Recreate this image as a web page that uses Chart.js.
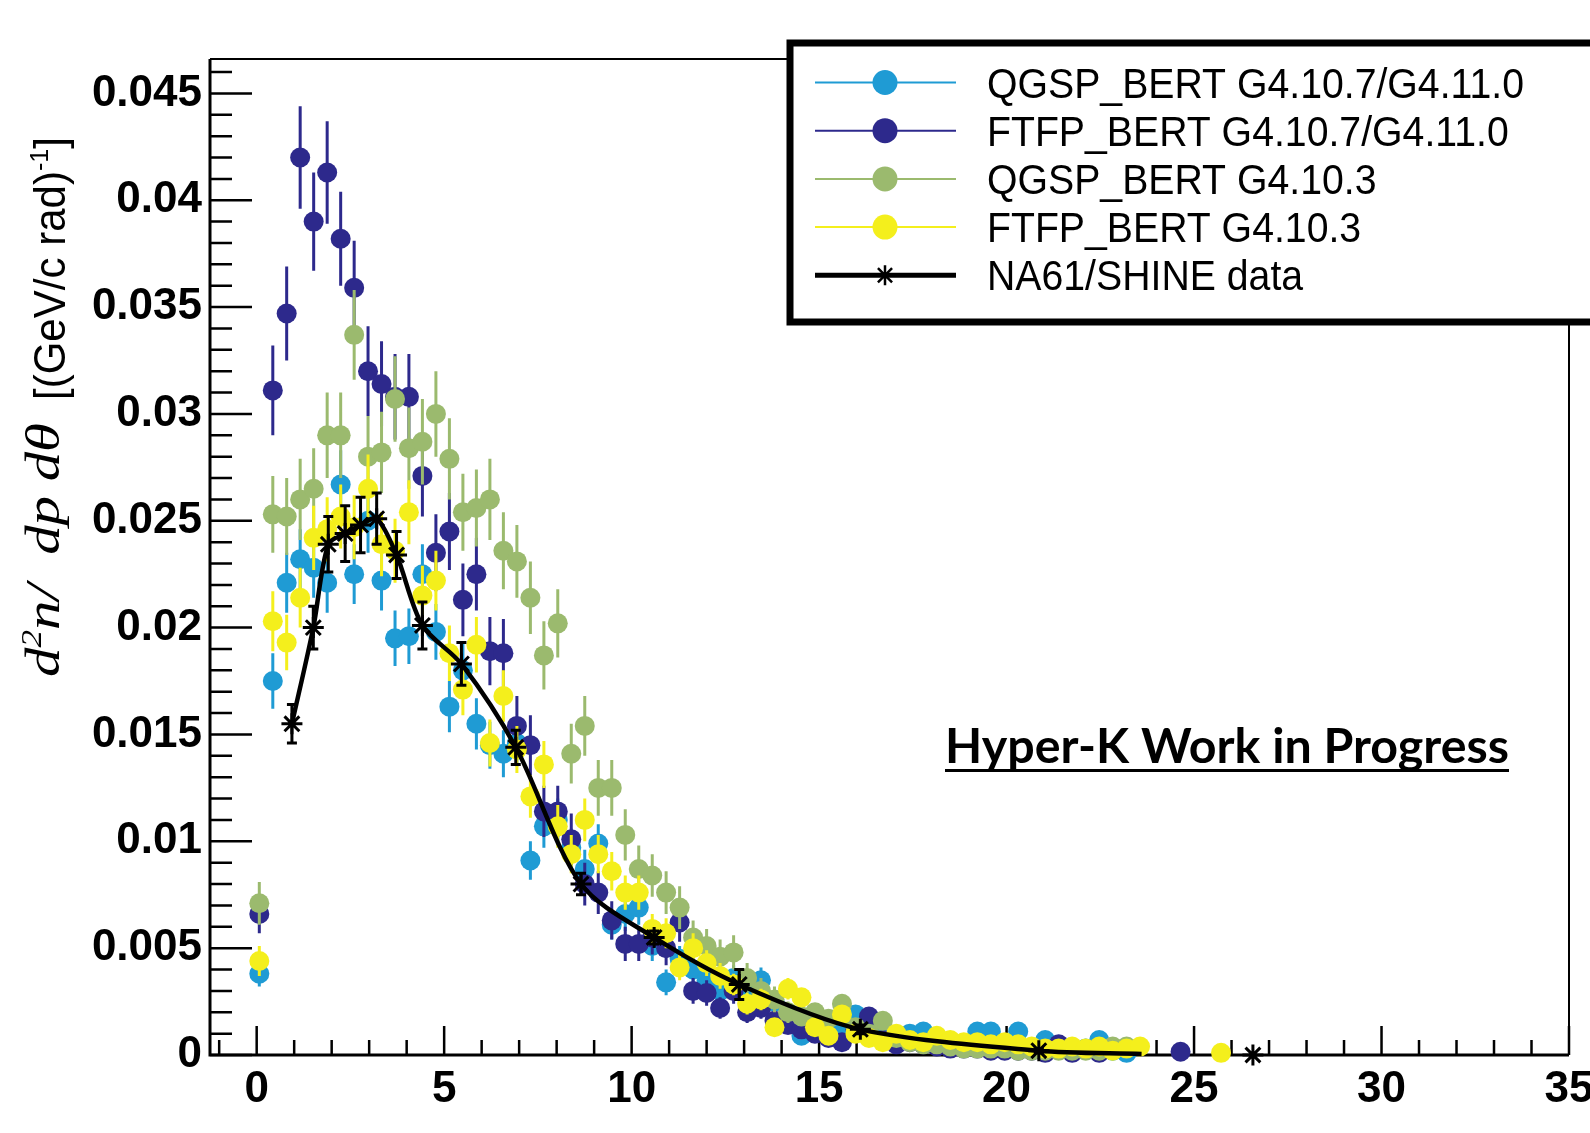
<!DOCTYPE html>
<html>
<head>
<meta charset="utf-8">
<script src="https://cdn.jsdelivr.net/npm/chart.js@4.4.1/dist/chart.umd.min.js"></script>
<style>
  html, body { margin: 0; padding: 0; background: #fff; }
  #wrap { width: 1590px; height: 1133px; }
</style>
</head>
<body>
<div id="wrap"><canvas id="chart" width="1590" height="1133"></canvas></div>
<script>
// bin centres of the MC histograms (GeV/c)
const binX = [
  0.07, 0.43, 0.80, 1.16, 1.52, 1.88, 2.24, 2.60, 2.97, 3.33,
  3.69, 4.06, 4.42, 4.78, 5.14, 5.50, 5.86, 6.22, 6.58, 6.94,
  7.30, 7.66, 8.03, 8.39, 8.75, 9.11, 9.47, 9.83, 10.19, 10.55,
  10.92, 11.28, 11.64, 12.00, 12.36, 12.72, 13.08, 13.45, 13.81, 14.17,
  14.53, 14.89, 15.25, 15.61, 15.97, 16.33, 16.70, 17.06, 17.42, 17.78,
  18.14, 18.50, 18.86, 19.22, 19.58, 19.95, 20.31, 20.67, 21.03, 21.39,
  21.75, 22.11, 22.47, 22.83, 23.20, 23.56, 23.92, 24.28, 24.64, 25.00,
  25.36, 25.72
];

const qgspNewY = [
  0.0038, 0.0175, 0.0221, 0.0232, 0.0228, 0.0221, 0.0267, 0.0225, 0.0250, 0.0222,
  0.0195, 0.0196, 0.0225, 0.0198, 0.0163, 0.0180, 0.0155, 0.0145, 0.0141, 0.0146,
  0.0091, 0.0107, 0.0110, 0.0097, 0.0087, 0.0099, 0.0061, 0.0066, 0.0069, 0.0051,
  0.0034, 0.0045, 0.0040, 0.0035, 0.0030, 0.0036, 0.0030, 0.0035, 0.0025, 0.0018,
  0.0009, 0.0016, 0.0013, 0.0012, 0.0019, 0.0012, 0.0008, 0.0007, 0.0010, 0.0011,
  0.0007, 0.0006, 0.0004, 0.0011, 0.0011, 0.0004, 0.0011, 0.0003, 0.0007, 0.0003,
  0.0002, 0.0003, 0.0007, 0.0002, 0.0001, null, null, null, null, null,
  null, null
];
const ftfpNewY = [
  0.0066, 0.0311, 0.0347, 0.0420, 0.0390, 0.0413, 0.0382, 0.0359, 0.0320, 0.0314,
  0.0308, 0.0308, 0.0271, 0.0235, 0.0245, 0.0213, 0.0225, 0.0189, 0.0188, 0.0154,
  0.0145, 0.0114, 0.0114, 0.0101, 0.0080, 0.0076, 0.0063, 0.0052, 0.0052, 0.0055,
  0.0050, 0.0062, 0.0030, 0.0029, 0.0022, 0.0030, 0.0020, 0.0022, 0.0016, 0.0014,
  0.0012, 0.0010, 0.0008, 0.0006, 0.0012, 0.0018, 0.0007, 0.0005, 0.0006, 0.0005,
  0.0004, 0.0003, 0.0003, 0.0003, 0.0002, 0.0002, 0.0002, 0.0002, 0.0001, 0.0005,
  0.0001, null, 0.0001, null, null, null, null, null, 0.00015, null,
  null, null
];
const qgspOldY = [
  0.0071, 0.0253, 0.0252, 0.0260, 0.0265, 0.0290, 0.0290, 0.0337, 0.0280, 0.0282,
  0.0307, 0.0284, 0.0287, 0.0300, 0.0279, 0.0254, 0.0256, 0.0260, 0.0236, 0.0231,
  0.0214, 0.0187, 0.0202, 0.0141, 0.0154, 0.0125, 0.0125, 0.0103, 0.0087, 0.0084,
  0.0076, 0.0069, 0.0055, 0.0051, 0.0046, 0.0048, 0.0036, 0.0030, 0.0026, 0.0020,
  0.0018, 0.0020, 0.0017, 0.0024, 0.0013, 0.0010, 0.0016, 0.0008, 0.0006, 0.0005,
  0.0005, 0.0004, 0.0003, 0.0003, 0.0003, 0.0003, 0.0002, 0.0002, 0.0002, 0.0002,
  0.0002, 0.0002, 0.0002, 0.0004, 0.0004, null, null, null, null, null,
  null, null
];
const ftfpOldY = [
  0.0044, 0.0203, 0.0193, 0.0214, 0.0242, 0.0246, 0.0252, 0.0247, 0.0265, 0.0239,
  0.0236, 0.0254, 0.0215, 0.0222, 0.0188, 0.0171, 0.0192, 0.0146, 0.0168, 0.0143,
  0.0121, 0.0136, 0.0107, 0.0094, 0.0110, 0.0094, 0.0086, 0.0076, 0.0076, 0.0059,
  0.0057, 0.0041, 0.0050, 0.0043, 0.0037, 0.0033, 0.0024, 0.0026, 0.0013, 0.0031,
  0.0027, 0.0013, 0.0009, 0.0019, 0.0010, 0.0008, 0.0006, 0.0010, 0.0007, 0.0006,
  0.0009, 0.0007, 0.0006, 0.0006, 0.0005, 0.0006, 0.0005, 0.0004, 0.0003, 0.0003,
  0.0004, 0.0003, 0.0004, 0.0002, 0.0003, 0.0004, null, null, null, null,
  null, 0.0001
];

// half-length of the error bars (only the first bins show them)
const qgspNewErr = [
  0.0006, 0.0013, 0.0014, 0.0014, 0.0014, 0.0014, 0.0016, 0.0014, 0.0015, 0.0014,
  0.0013, 0.0013, 0.0014, 0.0013, 0.0012, 0.0013, 0.0012, 0.0011, 0.0011, 0.0011,
  0.0009, 0.0010, 0.0010, 0.0009, 0.0009, 0.0009, 0.0007, 0.0008, 0.0008, 0.0007,
  0.0006, 0.0006, 0.0006, 0.0006, 0.0005, 0.0006, 0.0005, 0.0006, 0.0005, 0.0004
];
const ftfpNewErr = [
  0.0009, 0.0021, 0.0022, 0.0024, 0.0023, 0.0024, 0.0022, 0.0022, 0.0021, 0.0020,
  0.0020, 0.0020, 0.0019, 0.0018, 0.0018, 0.0017, 0.0017, 0.0016, 0.0016, 0.0014,
  0.0014, 0.0012, 0.0012, 0.0012, 0.0010, 0.0010, 0.0009, 0.0008, 0.0008, 0.0008,
  0.0008, 0.0009, 0.0006, 0.0006, 0.0005, 0.0006, 0.0005, 0.0005, 0.0004, 0.0004
];
const qgspOldErr = [
  0.0010, 0.0018, 0.0018, 0.0019, 0.0019, 0.0020, 0.0020, 0.0021, 0.0019, 0.0019,
  0.0020, 0.0019, 0.0020, 0.0020, 0.0019, 0.0018, 0.0018, 0.0019, 0.0018, 0.0017,
  0.0017, 0.0016, 0.0016, 0.0014, 0.0014, 0.0013, 0.0013, 0.0012, 0.0011, 0.0010,
  0.0010, 0.0010, 0.0008, 0.0008, 0.0008, 0.0008, 0.0007, 0.0006, 0.0006, 0.0005
];
const ftfpOldErr = [
  0.0007, 0.0014, 0.0013, 0.0014, 0.0015, 0.0015, 0.0015, 0.0015, 0.0016, 0.0015,
  0.0015, 0.0015, 0.0014, 0.0014, 0.0013, 0.0012, 0.0013, 0.0011, 0.0012, 0.0011,
  0.0010, 0.0011, 0.0010, 0.0009, 0.0010, 0.0009, 0.0009, 0.0008, 0.0008, 0.0007,
  0.0007, 0.0006, 0.0007, 0.0006, 0.0006, 0.0005, 0.0005, 0.0005, 0.0003, 0.0005
];

// NA61/SHINE measurement
const na61X = [0.94, 1.51, 1.91, 2.36, 2.77, 3.20, 3.73, 4.42, 5.46, 6.91, 8.65, 10.60, 12.87, 16.10, 20.86, 26.57];
const na61Y = [0.0155, 0.0200, 0.0239, 0.0244, 0.0248, 0.0251, 0.0234, 0.0201, 0.0183, 0.0144, 0.0080, 0.0055, 0.0033, 0.0012, 0.0002, 0.0000];
const na61Err = [0.0009, 0.0010, 0.0013, 0.0013, 0.0013, 0.0012, 0.0011, 0.0011, 0.0010, 0.0008, 0.0005, 0.0003, 0.0007, 0.0002, 0.0001, 0];
// the smooth curve stops short of the last point
const curveTailX = [23.6];
const curveTailY = [0.00005];

const xTickValues = [0, 5, 10, 15, 20, 25, 30, 35];
const xTickLabels = ['0', '5', '10', '15', '20', '25', '30', '35'];
const yTickValues = [0, 0.005, 0.01, 0.015, 0.02, 0.025, 0.03, 0.035, 0.04, 0.045];
const yTickLabels = ['0', '0.005', '0.01', '0.015', '0.02', '0.025', '0.03', '0.035', '0.04', '0.045'];

const series = [
  { label: 'QGSP_BERT G4.10.7/G4.11.0', color: '#1f9bd4', ys: qgspNewY, errs: qgspNewErr, order: 5 },
  { label: 'FTFP_BERT G4.10.7/G4.11.0', color: '#2d298c', ys: ftfpNewY, errs: ftfpNewErr, order: 4 },
  { label: 'QGSP_BERT G4.10.3', color: '#9bba6e', ys: qgspOldY, errs: qgspOldErr, order: 3 },
  { label: 'FTFP_BERT G4.10.3', color: '#f4ef1c', ys: ftfpOldY, errs: ftfpOldErr, order: 2 }
];
const dataLabel = 'NA61/SHINE data';

const points = (xs, ys, errs) => {
  const out = [];
  xs.forEach((x, i) => { if (ys[i] != null) out.push({ x, y: ys[i], e: (errs && errs[i]) || 0 }); });
  return out;
};

const SANS = '"Liberation Sans", Arial, sans-serif';

const rootFrame = {
  id: 'rootFrame',
  beforeDatasetsDraw(chart) {
    const { ctx, chartArea: a, scales: { x, y } } = chart;
    ctx.save();
    ctx.strokeStyle = '#000';
    ctx.lineCap = 'butt';
    // thin top / right frame
    ctx.lineWidth = 2;
    ctx.beginPath();
    ctx.moveTo(a.left, a.top); ctx.lineTo(a.right, a.top); ctx.lineTo(a.right, a.bottom);
    ctx.stroke();
    // ticks pointing inward
    ctx.lineWidth = 2.5;
    ctx.beginPath();
    yTickValues.forEach((v) => { const py = y.getPixelForValue(v); ctx.moveTo(a.left, py); ctx.lineTo(a.left + 42, py); });
    for (let k = 1; k <= 46; k++) {
      if (k % 5 === 0) continue;
      const py = y.getPixelForValue(k / 1000);
      ctx.moveTo(a.left, py); ctx.lineTo(a.left + 22, py);
    }
    xTickValues.forEach((v) => { const px = x.getPixelForValue(v); ctx.moveTo(px, a.bottom); ctx.lineTo(px, a.bottom - 29); });
    for (let k = -1; k < 35; k++) {
      if (k % 5 === 0) continue;
      const px = x.getPixelForValue(k);
      ctx.moveTo(px, a.bottom); ctx.lineTo(px, a.bottom - 15);
    }
    ctx.stroke();
    // heavier left / bottom axis
    ctx.lineWidth = 3;
    ctx.beginPath();
    ctx.moveTo(a.left, a.top); ctx.lineTo(a.left, a.bottom); ctx.lineTo(a.right, a.bottom);
    ctx.stroke();
    ctx.restore();
  },
  beforeDatasetDraw(chart, args) {
    const ds = chart.data.datasets[args.index];
    if (!ds.errColor) return;
    const { ctx, scales: { x, y } } = chart;
    ctx.save();
    ctx.strokeStyle = ds.errColor;
    ctx.lineWidth = ds.errWidth;
    ctx.beginPath();
    ds.data.forEach((p) => {
      if (!p.e) return;
      const px = x.getPixelForValue(p.x);
      const top = y.getPixelForValue(p.y + p.e);
      const bot = y.getPixelForValue(Math.max(0, p.y - p.e));
      ctx.moveTo(px, top); ctx.lineTo(px, bot);
      if (ds.errCap) {
        ctx.moveTo(px - ds.errCap, top); ctx.lineTo(px + ds.errCap, top);
        ctx.moveTo(px - ds.errCap, bot); ctx.lineTo(px + ds.errCap, bot);
      }
    });
    ctx.stroke();
    ctx.restore();
  },
  afterDraw(chart) {
    const { ctx } = chart;
    ctx.save();

    // legend box
    ctx.fillStyle = '#fff';
    ctx.fillRect(790, 43, 810, 279);
    ctx.strokeStyle = '#000';
    ctx.lineWidth = 7;
    ctx.strokeRect(790, 43, 820, 279);
    ctx.font = '42px ' + SANS;
    const squeeze = 537 / ctx.measureText(series[0].label).width;
    const rows = [...series.map((s) => ({ label: s.label, color: s.color })), { label: dataLabel, color: '#000', star: true }];
    rows.forEach((r, i) => {
      const cy = 82.5 + i * 48.2;
      ctx.strokeStyle = r.color;
      ctx.lineWidth = r.star ? 5 : 2;
      ctx.beginPath(); ctx.moveTo(815, cy); ctx.lineTo(956, cy); ctx.stroke();
      if (r.star) {
        ctx.lineWidth = 2.5;
        ctx.beginPath();
        for (let k = 0; k < 4; k++) {
          const ang = k * Math.PI / 4;
          ctx.moveTo(885 - 10 * Math.cos(ang), cy - 10 * Math.sin(ang));
          ctx.lineTo(885 + 10 * Math.cos(ang), cy + 10 * Math.sin(ang));
        }
        ctx.stroke();
      } else {
        ctx.fillStyle = r.color;
        ctx.beginPath(); ctx.arc(885, cy, 12.5, 0, Math.PI * 2); ctx.fill();
      }
      ctx.save();
      ctx.translate(987, cy + 15);
      ctx.scale(squeeze, 1);
      ctx.fillStyle = '#000';
      ctx.textBaseline = 'alphabetic';
      ctx.fillText(r.label, 0, 0);
      ctx.restore();
    });

    // watermark
    const mark = 'Hyper-K Work in Progress';
    ctx.font = 'bold 44px Lato, "Open Sans", sans-serif';
    const mSize = 44 * 564 / ctx.measureText(mark).width;
    ctx.font = `bold ${mSize}px Lato, "Open Sans", sans-serif`;
    ctx.fillStyle = '#000';
    ctx.textBaseline = 'alphabetic';
    ctx.fillText(mark, 945, 763);
    ctx.fillRect(945, 769, 564, 3);

    // y-axis title, drawn bottom to top, squeezed along the text to its length
    const mathBits = [['d', 0], ['2', 1], ['n/  dp dθ', 0]];
    const unitBits = [['[(GeV/c rad)', 0], ['-1', 1], [']', 0]];
    const drawRun = (bits, font, size, target, ox, oy) => {
      const total = bits.reduce((acc, [t, sup]) => {
        ctx.font = font(sup ? size * 0.6 : size);
        return acc + ctx.measureText(t).width;
      }, 0);
      ctx.save();
      ctx.translate(ox, oy);
      ctx.rotate(-Math.PI / 2);
      ctx.scale(target / total, 1);
      let pos = 0;
      bits.forEach(([t, sup]) => {
        ctx.font = font(sup ? size * 0.6 : size);
        ctx.fillText(t, pos, sup ? -size * 0.38 : 0);
        pos += ctx.measureText(t).width;
      });
      ctx.restore();
    };
    ctx.fillStyle = '#000';
    drawRun(mathBits, (s) => `italic ${s}px "Liberation Serif", "DejaVu Serif", serif`, 48, 254, 59, 677);
    drawRun(unitBits, (s) => `${s}px ${SANS}`, 44, 263, 65, 400);

    ctx.restore();
  }
};

const datasets = [
  ...series.map((s) => ({
    label: s.label,
    data: points(binX, s.ys, s.errs),
    backgroundColor: s.color,
    borderColor: s.color,
    pointRadius: 10,
    pointBorderWidth: 0,
    pointHoverRadius: 10,
    showLine: false,
    clip: false,
    order: s.order,
    errColor: s.color,
    errWidth: 3
  })),
  {
    label: dataLabel,
    data: points(na61X, na61Y, na61Err),
    pointStyle: 'star',
    pointRadius: 10.5,
    pointBorderWidth: 3,
    pointBorderColor: '#000',
    borderColor: '#000',
    backgroundColor: '#000',
    showLine: false,
    clip: false,
    order: 0,
    errColor: '#000',
    errWidth: 3,
    errCap: 5
  },
  {
    label: 'curve',
    data: [...points(na61X.slice(0, 15), na61Y.slice(0, 15)), ...points(curveTailX, curveTailY)],
    showLine: true,
    pointRadius: 0,
    borderColor: '#000',
    borderWidth: 4.5,
    tension: 0.3,
    clip: false,
    order: 1
  }
];

const tickFont = { family: SANS, size: 44, weight: 'bold' };

new Chart(document.getElementById('chart'), {
  type: 'scatter',
  data: { datasets },
  options: {
    responsive: false,
    animation: false,
    events: [],
    layout: { padding: { top: 59, right: 21, left: 0, bottom: 0 }, autoPadding: false },
    plugins: { legend: { display: false }, tooltip: { enabled: false } },
    scales: {
      x: {
        type: 'linear',
        min: -1.245,
        max: 35,
        afterBuildTicks: (s) => { s.ticks = xTickValues.map((v) => ({ value: v })); },
        afterFit: (s) => { s.height = 78; s.paddingLeft = 0; s.paddingRight = 0; },
        ticks: { callback: (v, i) => xTickLabels[i], font: tickFont, color: '#000', padding: 8, autoSkip: false, maxRotation: 0 },
        grid: { display: false, drawTicks: false },
        border: { display: false }
      },
      y: {
        type: 'linear',
        min: 0,
        max: 0.04661,
        afterBuildTicks: (s) => { s.ticks = yTickValues.map((v) => ({ value: v })); },
        afterFit: (s) => { s.width = 210; s.paddingTop = 0; s.paddingBottom = 0; },
        ticks: { callback: (v, i) => yTickLabels[i], font: tickFont, color: '#000', padding: 8, autoSkip: false },
        grid: { display: false, drawTicks: false },
        border: { display: false }
      }
    }
  },
  plugins: [rootFrame]
});
</script>
</body>
</html>
